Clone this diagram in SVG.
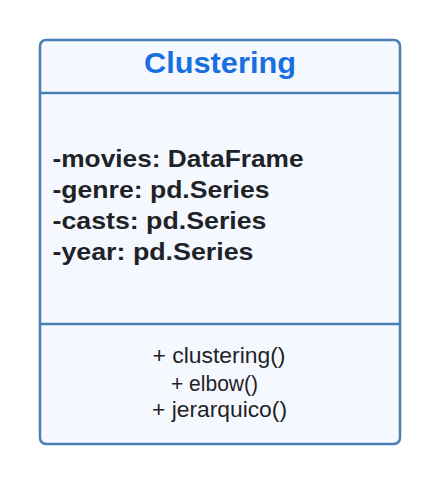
<svg xmlns="http://www.w3.org/2000/svg" width="440" height="485" viewBox="0 0 440 485">
<style>
.box{fill:#f5f9ff;stroke:#4a7fb5;stroke-width:2.5}
.sep{stroke:#4a7fb5;stroke-width:2.5}
.title{font-family:"Liberation Sans",Arial,sans-serif;font-weight:bold;font-size:30px;fill:#1a6fe0;text-anchor:middle}
.attr{font-family:"Liberation Sans",Arial,sans-serif;font-weight:bold;font-size:24px;fill:#1f2328}
.meth{font-family:"Liberation Sans",Arial,sans-serif;font-size:22px;fill:#1f2328;text-anchor:middle}
</style>
<rect width="440" height="485" fill="#ffffff"/>
<g id="Clustering">
<rect class="box" x="40" y="40" width="360" height="404" rx="6"/>
<line class="sep" x1="40" y1="93" x2="400" y2="93"/>
<line class="sep" x1="40" y1="324" x2="400" y2="324"/>
<text class="title" x="220" y="72.5" textLength="152" lengthAdjust="spacingAndGlyphs">Clustering</text>
<text class="attr" x="52.5" y="166.5" textLength="251" lengthAdjust="spacingAndGlyphs">-movies: DataFrame</text>
<text class="attr" x="52.5" y="198" textLength="217" lengthAdjust="spacingAndGlyphs">-genre: pd.Series</text>
<text class="attr" x="52.5" y="229" textLength="214" lengthAdjust="spacingAndGlyphs">-casts: pd.Series</text>
<text class="attr" x="52.5" y="260" textLength="201" lengthAdjust="spacingAndGlyphs">-year: pd.Series</text>
<text class="meth" x="219" y="362.7" textLength="133" lengthAdjust="spacingAndGlyphs">+ clustering()</text>
<text class="meth" x="214.5" y="390.5" textLength="87" lengthAdjust="spacingAndGlyphs">+ elbow()</text>
<text class="meth" x="219.5" y="416.7" textLength="135" lengthAdjust="spacingAndGlyphs">+ jerarquico()</text>
</g>
<g id="connectors"/>
</svg>
